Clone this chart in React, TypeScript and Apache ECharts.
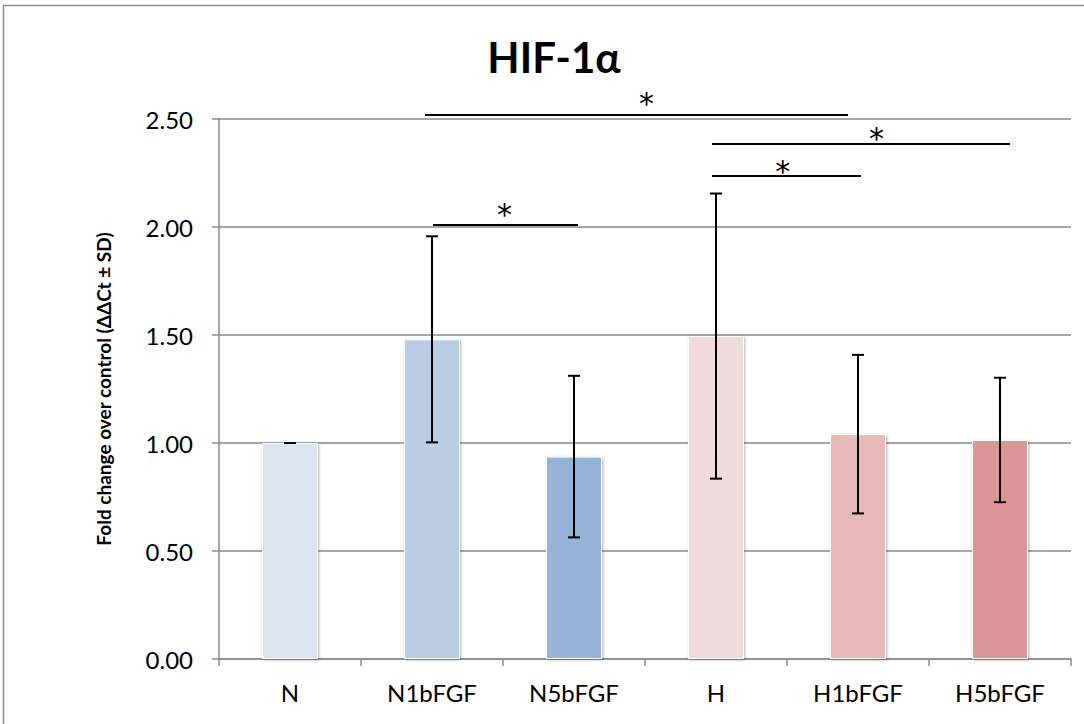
import React, { useEffect, useRef } from "react";
import * as echarts from "echarts";

const categories = ["N", "N1bFGF", "N5bFGF", "H", "H1bFGF", "H5bFGF"];
const means = [1.0, 1.48, 0.937, 1.495, 1.041, 1.014];
const sds = [0.0, 0.477, 0.374, 0.66, 0.367, 0.288];
const barColors = ["#dce6f2", "#b9cde5", "#95b3d7", "#f2dcdb", "#e6b9b8", "#d99694"];
// significance brackets: [xStart, xEnd, y, starX, starY] in category-index / value units
const brackets = [
  [0.951, 3.93, 2.519, 2.51, 2.597],
  [2.972, 5.07, 2.384, 4.13, 2.431],
  [2.972, 4.021, 2.236, 3.47, 2.282],
  [1.007, 2.028, 2.009, 1.51, 2.079],
];

const FONT = "Lato, 'Open Sans', sans-serif";

export default function App() {
  const ref = useRef<HTMLDivElement>(null);
  useEffect(() => {
    document.body.style.margin = "0";
    const chart = echarts.init(ref.current!, null, { renderer: "svg" });
    const option: any = {
      animation: false,
      backgroundColor: "#ffffff",
      title: {
        text: "HIF-1α",
        left: 549,
        top: 31,
        textAlign: "center",
        textStyle: { fontFamily: FONT, fontWeight: "bold", fontSize: 42, color: "#000" },
      },
      graphic: [
        {
          type: "rect",
          shape: { x: 3.5, y: 5.5, width: 1200, height: 1000 },
          style: { fill: "none", stroke: "#8a8a8a", lineWidth: 1.5 },
          silent: true,
          z: -1,
        },
      ],
      grid: { left: 219, right: 13, top: 119, bottom: 65, containLabel: false },
      xAxis: [
        {
          type: "category",
          data: categories,
          axisLine: { lineStyle: { color: "#8a8a8a", width: 1.5 } },
          axisTick: { show: true, alignWithLabel: false, length: 7, lineStyle: { color: "#8a8a8a", width: 1.5 } },
          axisLabel: { fontFamily: FONT, fontSize: 24, color: "#000", margin: 21 },
        },
        {
          type: "value",
          min: -0.5,
          max: 5.5,
          show: false,
        },
      ],
      yAxis: {
        type: "value",
        min: 0,
        max: 2.5,
        interval: 0.5,
        name: "Fold change over control (ΔΔCt ± SD)",
        nameLocation: "middle",
        nameGap: 106,
        nameTextStyle: { fontFamily: FONT, fontWeight: "bold", fontSize: 19, color: "#000" },
        axisLine: { show: true, onZero: false, lineStyle: { color: "#8a8a8a", width: 1.5 } },
        axisTick: { show: true, length: 7, lineStyle: { color: "#8a8a8a", width: 1.5 } },
        splitLine: { show: true, lineStyle: { color: "#8a8a8a", width: 1.5 } },
        axisLabel: {
          fontFamily: FONT,
          fontSize: 24,
          color: "#000",
          margin: 26,
          formatter: (v: number) => v.toFixed(2),
        },
      },
      series: [
        {
          type: "bar",
          xAxisIndex: 0,
          barWidth: 56,
          data: means.map((m, i) => ({
            value: m,
            itemStyle: {
              color: barColors[i],
              borderColor: "#ffffff",
              borderWidth: 1,
              shadowBlur: 3,
              shadowColor: "rgba(0,0,0,0.3)",
              shadowOffsetX: 1,
              shadowOffsetY: 1,
            },
          })),
          z: 2,
        },
        {
          type: "custom",
          xAxisIndex: 0,
          data: means.map((m, i) => [i, m - sds[i], m + sds[i]]),
          renderItem: (params: any, api: any) => {
            const x = api.value(0);
            const lo = api.coord([x, api.value(1)]);
            const hi = api.coord([x, api.value(2)]);
            const cx = lo[0];
            const w = 6;
            const style = { stroke: "#000", lineWidth: 2 };
            return {
              type: "group",
              children: [
                { type: "line", shape: { x1: cx, y1: lo[1], x2: cx, y2: hi[1] }, style },
                { type: "line", shape: { x1: cx - w, y1: lo[1], x2: cx + w, y2: lo[1] }, style },
                { type: "line", shape: { x1: cx - w, y1: hi[1], x2: cx + w, y2: hi[1] }, style },
              ],
            };
          },
          z: 5,
        },
        {
          type: "custom",
          xAxisIndex: 1,
          data: brackets,
          clip: false,
          renderItem: (params: any, api: any) => {
            const p1 = api.coord([api.value(0), api.value(2)]);
            const p2 = api.coord([api.value(1), api.value(2)]);
            const ps = api.coord([api.value(3), api.value(4)]);
            return {
              type: "group",
              children: [
                {
                  type: "line",
                  shape: { x1: p1[0], y1: p1[1], x2: p2[0], y2: p2[1] },
                  style: { stroke: "#000", lineWidth: 2 },
                },
                {
                  type: "text",
                  x: ps[0],
                  y: ps[1] + 5,
                  style: {
                    text: "*",
                    fontFamily: "'DejaVu Sans', sans-serif",
                    fontSize: 30,
                    fill: "#000",
                    align: "center",
                    verticalAlign: "middle",
                  },
                },
              ],
            };
          },
          z: 6,
        },
      ],
    };
    chart.setOption(option);
    return () => chart.dispose();
  }, []);
  return (
    <div
      ref={ref}
      style={{ position: "fixed", left: 0, top: 0, width: 1084, height: 724 }}
    />
  );
}
